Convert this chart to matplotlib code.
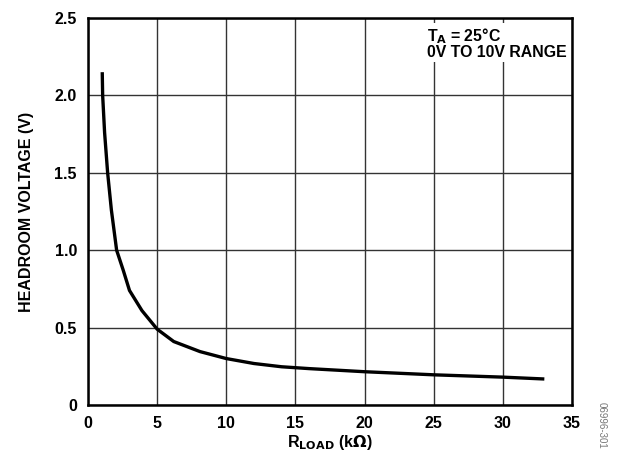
import matplotlib
matplotlib.use("Agg")
import matplotlib.pyplot as plt

r_load = [1.03, 1.06, 1.2, 1.42, 1.69, 2.07, 2.55, 3.0, 3.9, 5.0, 6.2, 8.1, 10.0, 12.0, 14.0, 16.0, 20.0, 25.0, 30.0, 33.0]
headroom = [2.15, 2.0, 1.76, 1.5, 1.26, 1.0, 0.87, 0.74, 0.61, 0.49, 0.41, 0.345, 0.30, 0.268, 0.247, 0.235, 0.215, 0.195, 0.18, 0.168]
x_ticks = [0, 5, 10, 15, 20, 25, 30, 35]
x_ticklabels = ["0", "5", "10", "15", "20", "25", "30", "35"]
y_ticks = [0, 0.5, 1.0, 1.5, 2.0, 2.5]
y_ticklabels = ["0", "0.5", "1.0", "1.5", "2.0", "2.5"]

plt.rcParams['font.family'] = ['Liberation Sans', 'DejaVu Sans']
plt.rcParams['font.weight'] = 'bold'

fig = plt.figure(figsize=(6.17, 4.61), dpi=100)
ax = fig.add_axes([88/617, 56/461, (572-88)/617, (405-18)/461])

ax.plot(r_load, headroom, color='black', linewidth=2.4, solid_capstyle='butt',
        solid_joinstyle='round', zorder=3)

ax.set_xlim(0, 35)
ax.set_ylim(0, 2.5)
ax.set_xticks(x_ticks)
ax.set_xticklabels(x_ticklabels, fontsize=11.5, fontweight='bold')
ax.set_yticks(y_ticks)
ax.set_yticklabels(y_ticklabels, fontsize=11.5, fontweight='bold')
ax.tick_params(length=0, pad=8)
ax.grid(True, color='#333333', linewidth=1.0)
for s in ax.spines.values():
    s.set_linewidth(1.8)
    s.set_color('black')

ax.set_xlabel(r'R$_\mathbf{LOAD}$ (k$\mathbf{\Omega}$)', fontsize=11.5, fontweight='bold', labelpad=1)
ax.set_ylabel('HEADROOM VOLTAGE (V)', fontsize=11.5, fontweight='bold', labelpad=15)

ax.text(0.70, 0.979, r'T$_\mathbf{A}$ = 25°C' + '\n0V TO 10V RANGE', transform=ax.transAxes,
        ha='left', va='top', fontsize=11.4, fontweight='bold', linespacing=0.95,
        bbox=dict(facecolor='white', edgecolor='none', pad=1))

fig.text(602/617, 1 - 425/461, '06996-301', rotation=270, fontsize=7, color='#777777',
         ha='center', va='center', fontweight='normal')

fig.savefig('out.png', dpi=100)
